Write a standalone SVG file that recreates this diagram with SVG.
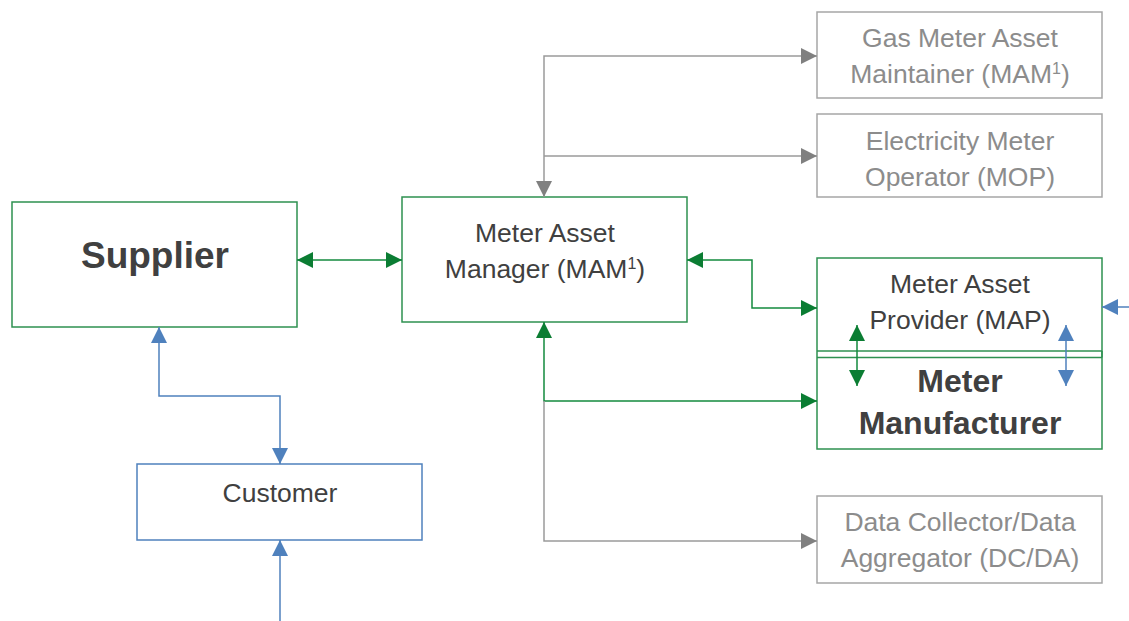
<svg xmlns="http://www.w3.org/2000/svg" width="1129" height="621" viewBox="0 0 1129 621">
<style>
.box{fill:#fff;stroke-width:1.5}
.g{stroke:#2E9150}
.b{stroke:#4F81BD}
.gr{stroke:#A6A6A6}
text{font-family:"Liberation Sans",Arial,sans-serif;text-anchor:middle}
.t{font-size:26.5px;fill:#404040}
.tg{font-size:26.5px;fill:#8C8C8C}
.bold{font-weight:bold;fill:#404040}
.cg{stroke:#138A3E;stroke-width:1.5;fill:none}
.cb{stroke:#4F81BD;stroke-width:1.5;fill:none}
.cgr{stroke:#9A9A9A;stroke-width:1.5;fill:none}
</style>
<defs>
<marker id="ag" markerUnits="userSpaceOnUse" markerWidth="16" markerHeight="16" refX="16" refY="8" orient="auto-start-reverse"><path d="M0,0L16,8L0,16z" fill="#0B7D33"/></marker>
<marker id="ab" markerUnits="userSpaceOnUse" markerWidth="16" markerHeight="16" refX="16" refY="8" orient="auto-start-reverse"><path d="M0,0L16,8L0,16z" fill="#4F81BD"/></marker>
<marker id="agr" markerUnits="userSpaceOnUse" markerWidth="16" markerHeight="16" refX="16" refY="8" orient="auto-start-reverse"><path d="M0,0L16,8L0,16z" fill="#808080"/></marker>
</defs>
<g id="supplier">
<rect class="box g" x="12" y="202" width="285" height="125"/>
<text class="bold" x="155" y="268" font-size="37">Supplier</text>
</g>
<g id="mam">
<rect class="box g" x="402" y="197" width="285" height="125"/>
<text class="t" x="545" y="242">Meter Asset</text>
<text class="t" x="545" y="278">Manager (MAM<tspan font-size="16" dy="-9">1</tspan><tspan dy="9">)</tspan></text>
</g>
<g id="gas">
<rect class="box gr" x="817" y="12" width="285" height="86"/>
<text class="tg" x="960" y="47">Gas Meter Asset</text>
<text class="tg" x="960" y="83">Maintainer (MAM<tspan font-size="16" dy="-9">1</tspan><tspan dy="9">)</tspan></text>
</g>
<g id="mop">
<rect class="box gr" x="817" y="114" width="285" height="83"/>
<text class="tg" x="960" y="150">Electricity Meter</text>
<text class="tg" x="960" y="186">Operator (MOP)</text>
</g>
<g id="map">
<rect class="box g" x="817" y="258" width="285" height="191"/>
<line class="g" x1="817" y1="351" x2="1102" y2="351" stroke-width="1.5"/>
<line class="g" x1="817" y1="357.5" x2="1102" y2="357.5" stroke-width="1.5"/>
<line class="g" x1="1102" y1="351" x2="1102" y2="357.5" stroke-width="1.5"/>
<text class="t" x="960" y="293">Meter Asset</text>
<text class="t" x="960" y="329">Provider (MAP)</text>
</g>
<g id="manufacturer">
<text class="bold" x="960" y="392" font-size="32">Meter</text>
<text class="bold" x="960" y="434" font-size="32">Manufacturer</text>
</g>
<g id="dcda">
<rect class="box gr" x="817" y="496" width="285" height="87"/>
<text class="tg" x="960" y="531">Data Collector/Data</text>
<text class="tg" x="960" y="567">Aggregator (DC/DA)</text>
</g>
<g id="customer">
<rect class="box b" x="137" y="464" width="285" height="76"/>
<text class="t" x="280" y="502">Customer</text>
</g>
<g id="connectors">
<path class="cg" d="M297,260H402" marker-start="url(#ag)" marker-end="url(#ag)"/>
<path class="cg" d="M687,260H752V308H817" marker-start="url(#ag)" marker-end="url(#ag)"/>
<path class="cg" d="M544,322V401H817" marker-start="url(#ag)" marker-end="url(#ag)"/>
<path class="cgr" d="M544,401V541H817" marker-end="url(#agr)"/>
<path class="cgr" d="M817,56H544V197" marker-start="url(#agr)" marker-end="url(#agr)"/>
<path class="cgr" d="M544,156H817" marker-end="url(#agr)"/>
<path class="cb" d="M159,327V396H280V464" marker-start="url(#ab)" marker-end="url(#ab)"/>
<path class="cb" d="M280,621V540" marker-end="url(#ab)"/>
<path class="cb" d="M1129,307H1102" marker-end="url(#ab)"/>
<path class="cg" d="M857,325V386" marker-start="url(#ag)" marker-end="url(#ag)"/>
<path class="cb" d="M1066,325V386" marker-start="url(#ab)" marker-end="url(#ab)"/>
</g>
</svg>
